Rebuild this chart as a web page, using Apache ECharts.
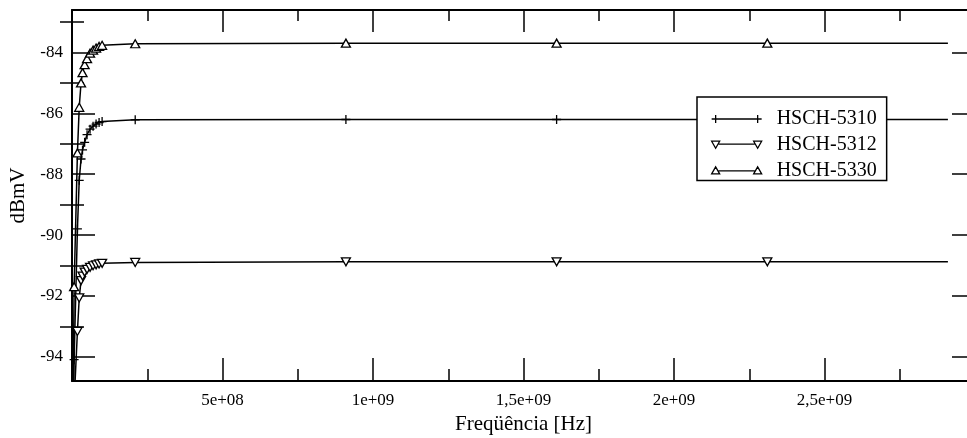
<!DOCTYPE html>
<html><head><meta charset="utf-8">
<script src="https://cdn.jsdelivr.net/npm/echarts@6/dist/echarts.min.js"></script>
<style>html,body{margin:0;padding:0;background:#fff}#c{width:967px;height:438px}</style>
</head><body><div id="c"></div>
<script>
// ---- data ----
const freqHz = [1e6, 7e6, 1.8e7, 2.4e7, 3e7, 3.5e7, 4.2e7, 5e7, 6e7, 7e7, 8e7, 9e7, 1e8, 2.1e8, 9.1e8, 1.61e9, 2.31e9, 2.91e9];
const hsch5310 = [-99, -94.1, -89.8, -88.2, -87.5, -87.2, -86.95, -86.7, -86.52, -86.42, -86.35, -86.3, -86.27, -86.21, -86.2, -86.2, -86.2, -86.2];
const hsch5312 = [-99, -95.5, -93.17, -92.07, -91.5, -91.35, -91.22, -91.13, -91.06, -91.01, -90.98, -90.95, -90.93, -90.9, -90.88, -90.88, -90.88, -90.88];
const hsch5330 = [-99, -91.7, -87.3, -85.8, -85.0, -84.66, -84.4, -84.2, -84.02, -83.92, -83.85, -83.8, -83.76, -83.71, -83.69, -83.69, -83.69, -83.69];
const seriesNames = ['HSCH-5310', 'HSCH-5312', 'HSCH-5330'];
const xMajorTicks = [5e8, 1e9, 1.5e9, 2e9, 2.5e9];
const xMinorTicks = [2.5e8, 7.5e8, 1.25e9, 1.75e9, 2.25e9, 2.75e9];
const yMajorTicks = [-94, -92, -90, -88, -86, -84];
const yMinorTicks = [-93, -91, -89, -87, -85, -83];
const xRange = [0, 3e9];
const yRange = [-94.8, -82.6];
const xTitle = 'Freqüência [Hz]';
const yTitle = 'dBmV';

// ---- chart ----
const FONT = '"Liberation Serif", "Times New Roman", serif';
const chart = echarts.init(document.getElementById('c'), null, {renderer: 'canvas'});

function fmtX(v) {
  const e = Math.floor(Math.log10(v) + 1e-9);
  const m = Math.round(v / Math.pow(10, e) * 100) / 100;
  return String(m).replace('.', ',') + 'e+' + String(e).padStart(2, '0');
}

function xAx(position, ticks, len, opts) {
  return Object.assign({
    type: 'value', gridIndex: 0, position, min: xRange[0], max: xRange[1],
    axisLine: {show: false},
    axisTick: {show: true, inside: true, length: len, customValues: ticks, lineStyle: {color: '#000', width: 1.5}},
    axisLabel: {show: false},
    splitLine: {show: false}
  }, opts || {});
}
function yAx(position, ticks, len, opts) {
  return Object.assign({
    type: 'value', gridIndex: 0, position, min: yRange[0], max: yRange[1],
    axisLine: {show: false},
    axisTick: {show: true, inside: true, length: len, customValues: ticks, lineStyle: {color: '#000', width: 1.5}},
    axisLabel: {show: false},
    splitLine: {show: false}
  }, opts || {});
}

const axisLineStyle = {show: true, onZero: false, lineStyle: {color: '#000', width: 2}};

const xAxes = [
  xAx('bottom', xMajorTicks, 23, {
    axisLine: axisLineStyle,
    axisLabel: {show: true, customValues: xMajorTicks, formatter: fmtX, margin: 11,
      fontFamily: FONT, fontSize: 17, color: '#000'},
    name: xTitle, nameLocation: 'middle', nameGap: 23,
    nameTextStyle: {fontFamily: FONT, fontSize: 21, color: '#000'}
  }),
  xAx('bottom', xMinorTicks, 12),
  xAx('top', xMajorTicks, 22, {axisLine: axisLineStyle}),
  xAx('top', xMinorTicks, 11)
];
const yAxes = [
  yAx('left', yMajorTicks, 23, {
    axisLine: axisLineStyle,
    axisLabel: {show: true, customValues: yMajorTicks, margin: 9,
      fontFamily: FONT, fontSize: 17, color: '#000'},
    name: yTitle, nameLocation: 'middle', nameGap: 40,
    nameTextStyle: {fontFamily: FONT, fontSize: 21, color: '#000'}
  }),
  yAx('left', yMinorTicks, 12),
  yAx('right', yMajorTicks, 23, {axisLine: axisLineStyle}),
  yAx('right', yMinorTicks, 12)
];

const crossPath = 'path://M0 5H10M5 0V10';
function mkSeries(name, ys, symbol, rotate, size) {
  return {
    name, type: 'line', xAxisIndex: 0, yAxisIndex: 0,
    data: freqHz.map((x, i) => ({value: [x, ys[i]], symbol: i === freqHz.length - 1 ? 'none' : symbol})),
    symbol, symbolRotate: rotate, symbolSize: size, showAllSymbol: true,
    lineStyle: {color: '#000', width: 1.5},
    itemStyle: {color: '#fff', borderColor: '#000', borderWidth: 1.3},
    emphasis: {disabled: true},
    clip: true, animation: false
  };
}

chart.setOption({
  backgroundColor: '#fff',
  animation: false,
  grid: {left: 72, top: 10, width: 903, height: 371, containLabel: false, outerBoundsMode: 'none'},
  xAxis: xAxes,
  yAxis: yAxes,
  legend: {
    orient: 'vertical', left: 697, top: 97,
    padding: [12, 10, 0, 14], itemGap: 5.7, itemWidth: 50, itemHeight: 8,
    backgroundColor: '#fff', borderColor: '#000', borderWidth: 1.5,
    selectedMode: false,
    textStyle: {fontFamily: FONT, fontSize: 20, color: '#000', padding: [0, 0, 0, 10]},
    itemStyle: {color: '#fff', borderColor: '#000', borderWidth: 1.3},
    data: [
      {name: seriesNames[0], icon: 'path://M0 4H50M4 0V8M46 0V8'},
      {name: seriesNames[1], icon: 'path://M7 3H43M0 0H8L4 7ZM42 0H50L46 7Z'},
      {name: seriesNames[2], icon: 'path://M7 4H43M0 7H8L4 0ZM42 7H50L46 0Z'}
    ]
  },
  series: [
    mkSeries(seriesNames[0], hsch5310, crossPath, 0, 9),
    mkSeries(seriesNames[1], hsch5312, 'triangle', 180, [9, 8]),
    mkSeries(seriesNames[2], hsch5330, 'triangle', 0, [9, 8])
  ]
});
</script></body></html>
